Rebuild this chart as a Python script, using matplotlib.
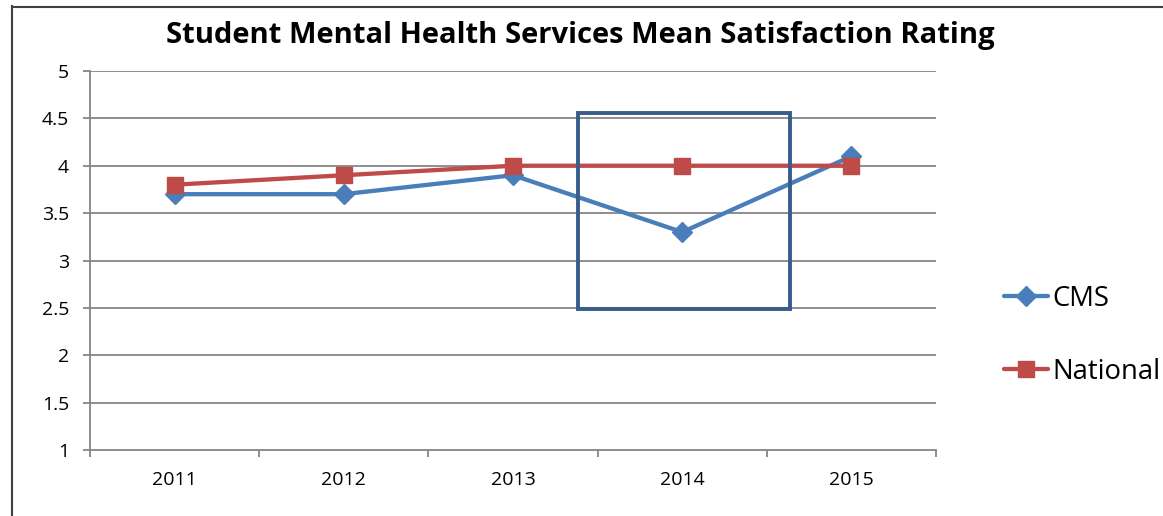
import matplotlib
matplotlib.use("Agg")
import matplotlib.pyplot as plt
from matplotlib.patches import Rectangle
from matplotlib.lines import Line2D

years = ["2011", "2012", "2013", "2014", "2015"]
cms = [3.7, 3.7, 3.9, 3.3, 4.1]
national = [3.8, 3.9, 4.0, 4.0, 4.0]
title = "Student Mental Health Services Mean Satisfaction Rating"

plt.rcParams['font.family'] = ['Open Sans', 'DejaVu Sans']

W, H = 1163, 516
fig = plt.figure(figsize=(W / 100, H / 100), dpi=100)
fig.patch.set_facecolor("white")

ax = fig.add_axes([90 / W, (H - 450) / H, 846 / W, 379 / H])
x = list(range(len(years)))

grid_c = "#868686"
for v in [1.5, 2, 2.5, 3, 3.5, 4, 4.5, 5]:
    ax.axhline(v, color=grid_c, lw=1.3, zorder=1)

ax.plot(x, cms, color="#4a7ebb", lw=3.1, marker="D", markersize=10,
        label="CMS", zorder=3, solid_capstyle="round")
ax.plot(x, national, color="#be4b48", lw=3.1, marker="s", markersize=12,
        label="National", zorder=3, solid_capstyle="round")

ax.set_xlim(-0.5, len(years) - 0.5)
ax.set_ylim(1, 5)
ax.set_yticks([1, 1.5, 2, 2.5, 3, 3.5, 4, 4.5, 5])
ax.set_yticklabels(["1", "1.5", "2", "2.5", "3", "3.5", "4", "4.5", "5"])
ax.set_xticks(x)
ax.set_xticklabels(years)
ax.set_xticks([i - 0.5 for i in range(len(years) + 1)], minor=True)
ax.tick_params(axis="x", which="major", length=0, pad=15, labelsize=14)
ax.tick_params(axis="x", which="minor", length=5, width=1.3, color=grid_c, direction="out")
ax.tick_params(axis="y", length=5, width=1.3, color=grid_c, pad=10, labelsize=14)

for s in ["top", "right"]:
    ax.spines[s].set_visible(False)
for s in ["left", "bottom"]:
    ax.spines[s].set_color(grid_c)
    ax.spines[s].set_linewidth(1.3)

# highlight box around 2014
ax.add_patch(Rectangle((2.384, 2.488), 1.253, 2.069, fill=False,
                       edgecolor="#385d8a", lw=2.8, zorder=4, clip_on=False))

fig.text(580 / W, 1 - 35 / H, title, ha="center", va="center",
         fontsize=21, fontweight="bold", color="black")

leg = fig.legend(loc="upper left", bbox_to_anchor=(1004 / W, 1 - 285 / H),
                 frameon=False, fontsize=19.8, handlelength=1.6,
                 handletextpad=0.15, labelspacing=1.64, borderpad=0, borderaxespad=0)

# outer chart border
fig.add_artist(Line2D([11.5 / W, 11.5 / W], [0, 1 - 6 / H], color="#404040", lw=1.5))
fig.add_artist(Line2D([11.5 / W, 1], [1 - 6.5 / H, 1 - 6.5 / H], color="#404040", lw=1.5))

fig.savefig("out.png", dpi=100, facecolor="white")
